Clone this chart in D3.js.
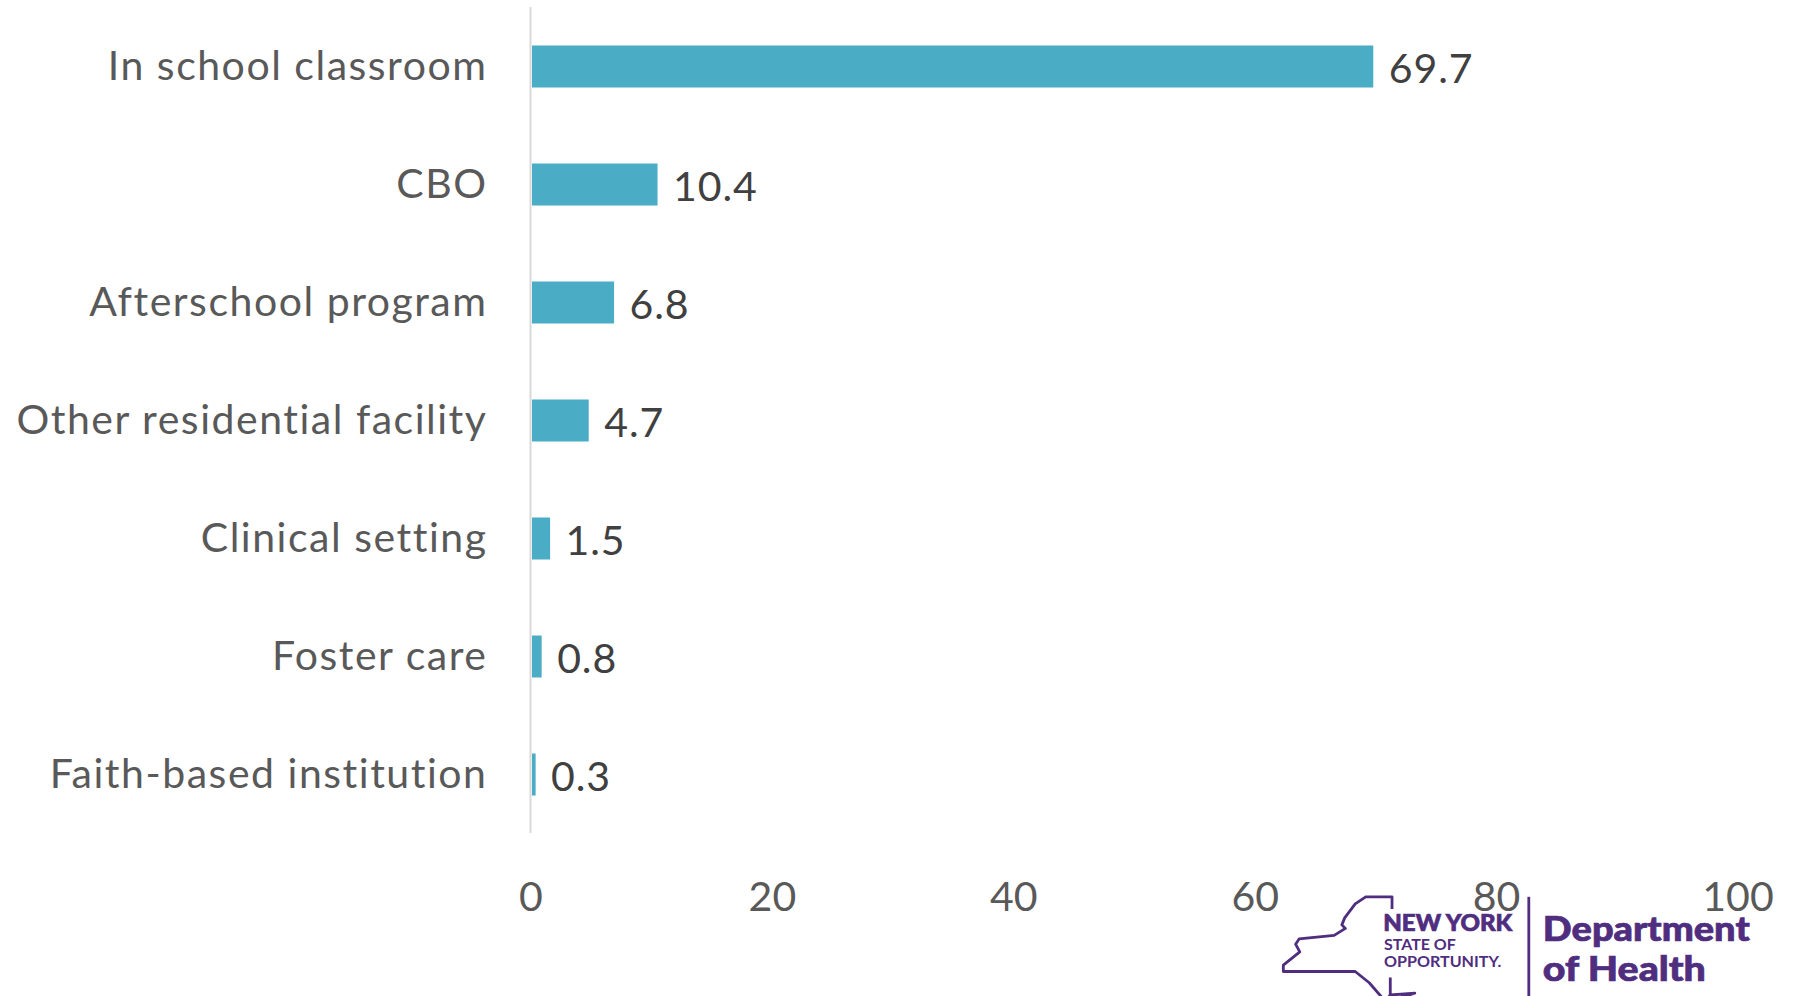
<!DOCTYPE html>
<html><head><meta charset="utf-8">
<style>html,body{margin:0;background:#fff}svg{display:block}text{font-family:Lato,"Open Sans",sans-serif}</style>
<script src="https://cdn.jsdelivr.net/npm/d3@7/dist/d3.min.js"></script></head>
<body><svg id="c" width="1800" height="996"></svg>
<script>
const categories=["In school classroom","CBO","Afterschool program","Other residential facility","Clinical setting","Foster care","Faith-based institution"];
const values=[69.7,10.4,6.8,4.7,1.5,0.8,0.3];
const valueLabels=["69.7","10.4","6.8","4.7","1.5","0.8","0.3"];
const ticks=[0,20,40,60,80,100];
const svg=d3.select("#c");
const x=d3.scaleLinear().domain([0,100]).range([532,1739]);
const y=d3.scaleBand().domain(categories).range([7.5,833.5]).paddingInner(0.644).paddingOuter(0.322);
svg.append("line").attr("x1",530.5).attr("x2",530.5).attr("y1",7).attr("y2",833).attr("stroke","#d9d9d9").attr("stroke-width",2);
svg.selectAll("rect.b").data(values).join("rect").attr("class","b")
 .attr("x",x(0)).attr("y",(d,i)=>y(categories[i])).attr("width",d=>x(d)-x(0)).attr("height",y.bandwidth()).attr("fill","#4bacc6");
svg.selectAll("text.c").data(categories).join("text").attr("class","c")
 .attr("x",487.5).attr("y",d=>y(d)+y.bandwidth()/2+13.5).attr("text-anchor","end").attr("font-size",41).attr("letter-spacing",1.52).attr("fill","#595959").text(d=>d);
svg.selectAll("text.v").data(values).join("text").attr("class","v")
 .attr("x",d=>x(d)+15.5).attr("y",(d,i)=>y(categories[i])+y.bandwidth()/2+16.5).attr("font-size",41).attr("letter-spacing",0.9).attr("fill","#404040").text((d,i)=>valueLabels[i]);
svg.selectAll("text.t").data(ticks).join("text").attr("class","t")
 .attr("x",d=>x(d)-1).attr("y",911).attr("text-anchor","middle").attr("font-size",41).attr("fill","#595959").text(d=>d);
const logo=svg.append("g").attr("transform","translate(1250,860) scale(0.3507)");
const P="#4f2d7f";
logo.append("path").attr("fill","none").attr("stroke",P).attr("stroke-width",8).attr("stroke-linejoin","round")
 .attr("d","M405,140L405,105L330,105L300,125L270,165L262,185L272,195L240,215L140,225L130,240L142,262L95,300L95,318L300,318L340,350L385,402L400,385L470,380L385,405M400,335L400,385");
logo.append("line").attr("x1",795).attr("x2",795).attr("y1",105).attr("y2",408).attr("stroke",P).attr("stroke-width",8);
const T=[["NEW YORK",380,203,62,900,368],["STATE OF",382,256,42,700,205],["OPPORTUNITY.",382,306,42,700,335],["Department",835,232,98,900,590],["of Health",835,344,98,900,465]];
logo.selectAll("text").data(T).join("text").attr("x",d=>d[1]).attr("y",d=>d[2]).attr("font-size",d=>d[3]).attr("font-weight",d=>d[4]).attr("fill",P).attr("stroke",P).attr("stroke-width",d=>d[3]>60?2:0).attr("textLength",d=>d[5]).attr("lengthAdjust","spacingAndGlyphs").text(d=>d[0]);
</script></body></html>
